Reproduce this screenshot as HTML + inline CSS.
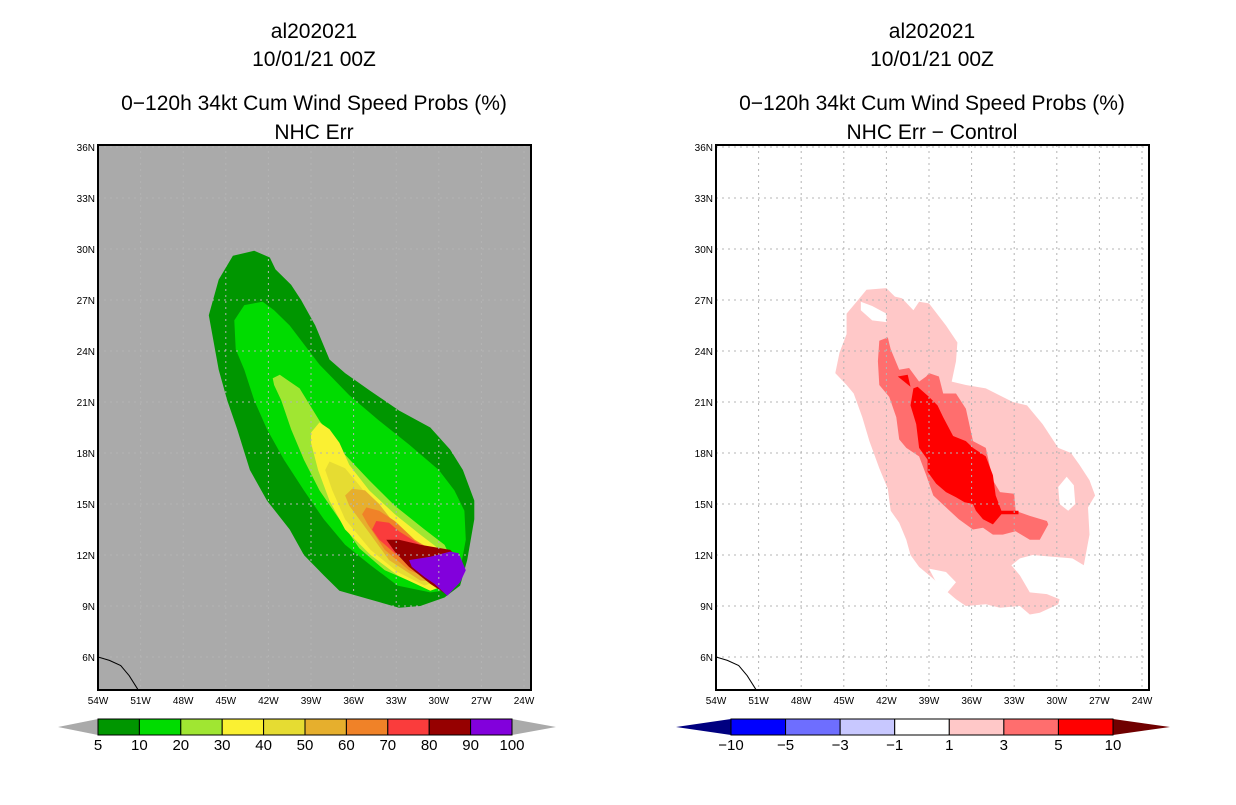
<!DOCTYPE html>
<html><head><meta charset="utf-8"><style>
html,body{margin:0;padding:0;background:#fff;}
svg text{font-family:"Liberation Sans",sans-serif;}
</style></head><body>
<svg id="root" width="1236" height="800" xmlns="http://www.w3.org/2000/svg">
<rect width="1236" height="800" fill="#fff"/>
<g id="left"></g>
<g id="right"></g>
</svg>
<script>
// ---- data: contour polygons as [lon(W), lat(N)] ----
const p05=[[44.5,29.6],[43.0,29.9],[41.9,29.5],[41.5,28.8],[40.4,27.9],[39.7,27.0],[38.7,25.5],[37.7,23.5],[36.6,22.7],[34.9,21.7],[32.8,20.5],[30.6,19.5],[29.2,18.2],[28.3,17.0],[27.5,15.2],[27.5,14.1],[28.0,11.7],[28.5,10.2],[29.6,9.5],[31.3,9.0],[32.8,8.9],[34.9,9.4],[37.0,9.9],[38.1,10.8],[39.5,12.0],[40.5,13.5],[42.1,15.2],[43.3,17.0],[44.2,19.4],[44.9,21.1],[45.5,22.9],[46.2,26.1],[45.5,28.2]];
const p10=[[42.4,26.9],[43.7,26.7],[44.4,25.8],[44.3,24.1],[43.7,22.9],[43.0,21.1],[42.1,19.4],[40.9,17.6],[39.5,15.8],[38.1,14.1],[36.6,12.6],[34.8,11.4],[32.9,10.2],[30.6,9.8],[29.6,9.9],[28.5,11.1],[28.1,12.9],[28.2,14.6],[28.9,15.8],[30.0,17.0],[32.1,18.5],[34.2,19.9],[36.3,21.4],[38.4,23.2],[40.5,25.5],[41.6,26.4]];
const p20=[[41.2,22.6],[41.7,22.4],[41.6,22.0],[41.1,21.1],[40.4,19.4],[39.5,17.6],[38.4,15.8],[37.0,14.1],[35.6,12.4],[33.8,11.1],[31.3,10.2],[29.9,10.2],[28.9,11.4],[29.6,12.6],[31.0,13.5],[33.1,14.9],[34.9,16.4],[36.6,17.9],[38.4,19.9],[39.8,21.8]];
const p30=[[38.4,19.8],[39.0,19.2],[39.0,18.6],[38.5,17.0],[37.7,15.2],[36.6,13.5],[34.8,12.0],[32.9,10.8],[30.6,9.9],[29.6,10.2],[28.9,11.4],[29.9,12.3],[31.3,13.2],[33.1,14.4],[34.9,15.8],[36.3,17.3],[37.0,18.6],[37.7,19.4]];
const p40=[[37.7,17.5],[38.0,17.0],[37.5,15.8],[36.6,14.1],[34.8,12.3],[32.9,11.0],[31.0,10.2],[29.2,10.8],[29.4,11.7],[30.6,12.3],[32.8,13.5],[34.2,14.6],[35.6,16.1],[36.6,17.1]];
const p50=[[36.1,15.9],[36.6,15.5],[36.3,14.9],[34.8,13.2],[33.5,11.7],[31.3,10.5],[29.9,10.4],[29.2,11.4],[30.6,12.2],[32.8,13.5],[34.2,15.0],[35.2,15.8]];
const p60=[[35.1,14.8],[35.4,14.4],[35.0,13.8],[33.8,12.3],[32.1,11.1],[30.3,10.5],[29.1,11.2],[29.9,12.0],[31.7,12.9],[33.1,14.0],[34.2,14.6]];
const p70=[[34.4,14.0],[34.7,13.5],[34.2,12.9],[33.1,12.1],[31.3,11.0],[29.9,10.3],[28.6,11.3],[29.6,12.1],[31.3,12.6],[32.8,13.4],[33.5,13.9]];
const p80=[[33.7,12.9],[33.1,12.2],[32.1,11.3],[30.6,10.3],[29.5,9.7],[29.1,10.3],[28.5,11.7],[29.2,12.3],[31.3,12.6],[32.8,12.9]];
const p90=[[32.1,11.7],[30.6,11.9],[29.2,12.2],[28.6,12.1],[28.1,11.1],[28.5,10.4],[29.4,9.6],[30.3,10.3],[31.0,10.7],[31.9,11.3]];
const d1=[[43.4,27.6],[42.0,27.7],[41.4,27.2],[40.9,27.1],[40.1,26.4],[39.7,26.9],[39.0,26.8],[37.8,25.5],[37.0,24.5],[37.1,23.4],[37.4,22.2],[36.4,22.0],[35.0,21.8],[33.1,21.0],[32.1,20.8],[31.7,20.4],[31.0,19.7],[29.9,18.3],[29.0,18.0],[28.4,17.3],[27.7,16.4],[27.3,15.5],[27.8,14.8],[27.7,13.2],[28.1,11.4],[28.9,11.8],[30.3,11.9],[31.7,12.0],[32.6,11.8],[33.2,11.4],[32.6,10.8],[31.9,9.8],[30.7,9.7],[29.8,9.4],[29.9,9.1],[31.2,8.6],[31.9,8.5],[32.6,9.0],[34.0,8.9],[35.0,9.1],[36.4,9.0],[37.1,9.4],[37.8,9.9],[38.7,10.6],[39.7,11.3],[40.3,12.0],[40.6,12.9],[41.1,13.9],[41.7,14.6],[41.9,15.9],[42.5,17.1],[43.2,18.7],[43.7,20.1],[44.3,21.5],[44.8,22.0],[45.6,22.7],[45.3,23.9],[44.8,25.0],[44.8,26.2],[44.1,26.9]];
const hole1=[[29.3,16.6],[28.8,16.1],[28.7,15.0],[29.2,14.6],[29.8,15.0],[29.9,16.0]];
const hole2=[[43.8,26.9],[43.0,26.65],[42.0,26.2],[42.0,25.7],[43.0,25.8],[43.8,26.4]];
const hole3=[[39.0,11.2],[37.8,11.0],[37.1,10.4],[37.7,9.8],[38.5,10.4]];
const d3=[[42.5,24.6],[41.9,24.8],[41.7,24.1],[41.1,22.9],[40.4,23.0],[39.7,22.2],[39.2,22.5],[39.0,22.7],[38.3,22.5],[38.0,21.5],[37.1,21.5],[36.4,20.6],[35.9,18.7],[35.0,18.3],[34.5,16.4],[34.0,15.7],[33.0,15.6],[32.9,14.6],[31.9,14.3],[30.7,14.0],[30.6,13.8],[31.2,12.9],[31.9,12.9],[32.9,13.4],[33.8,13.2],[34.5,13.2],[35.2,13.6],[35.9,13.5],[36.9,14.1],[37.8,14.8],[38.7,15.5],[39.2,16.7],[39.7,17.8],[40.6,18.3],[41.1,18.8],[41.3,20.1],[41.8,21.3],[42.5,22.0],[42.6,23.4]];
const d5=[[40.1,21.8],[39.8,21.9],[39.0,21.3],[38.4,20.8],[38.0,20.1],[37.3,19.0],[36.4,18.7],[35.9,18.3],[35.0,17.8],[34.5,16.7],[34.3,15.5],[33.9,14.6],[32.7,14.6],[32.7,14.4],[33.9,14.4],[34.5,13.8],[35.2,14.1],[35.7,14.6],[35.9,15.0],[36.5,15.1],[37.1,15.4],[37.8,15.7],[38.5,16.2],[39.1,16.9],[39.1,17.6],[39.7,18.3],[39.9,19.7],[40.3,20.8]];
const d5b=[[41.2,22.5],[40.5,22.6],[40.3,21.9]];
const coast=[[54,6.0],[53.2,5.8],[52.4,5.5],[51.8,4.9],[51.2,4.1]];
const lonTicks=[54,51,48,45,42,39,36,33,30,27,24];
const latTicks=[36,33,30,27,24,21,18,15,12,9,6];
const leftLevels=["5","10","20","30","40","50","60","70","80","90","100"];
const leftColors=["#009600","#00dc00","#a0e632","#faf032","#e6dc32","#e6af2d","#f08228","#fa3c3c","#960000","#8200dc"];
const rightLevels=["\u221210","\u22125","\u22123","\u22121","1","3","5","10"];
const rightColors=["#0000ff","#6e6eff","#c8c8ff","#ffffff","#ffc8c8","#ff6e6e","#ff0000"];

const NS="http://www.w3.org/2000/svg";
function mk(tag,attrs,parent){const e=document.createElementNS(NS,tag);for(const k in attrs)e.setAttribute(k,attrs[k]);parent.appendChild(e);return e;}
function xs(x0){return lon=>x0+(54-lon)*14.2;}
const ys=lat=>147+(36-lat)*17;
function pts(poly,X){return poly.map(p=>X(p[0]).toFixed(1)+","+ys(p[1]).toFixed(1)).join(" ");}

function panel(g,x0,bg,title2,layers){
  const X=xs(x0), W=433, top=145, bot=690;
  const cx=x0+216;
  const titles=["al202021","10/01/21 00Z","0\u2212120h 34kt Cum Wind Speed Probs (%)",title2];
  const ty=[38,66,110,139];
  titles.forEach((t,i)=>{const e=mk("text",{x:cx,y:ty[i],"text-anchor":"middle","font-size":"21"},g);e.textContent=t;
    
    });
  const cid="clip"+x0;
  const cp=mk("clipPath",{id:cid},g);mk("rect",{x:x0,y:top,width:W,height:bot-top},cp);
  const bgR=mk("rect",{x:x0,y:top,width:W,height:bot-top,fill:bg},g);
  
  
  const m=mk("g",{"clip-path":"url(#"+cid+")"},g);
  layers.forEach(L=>{const e=mk("polygon",{points:pts(L[0],X),fill:L[1]},m);
    
    });
  lonTicks.forEach(l=>{const e=mk("line",{x1:X(l),x2:X(l),y1:top,y2:bot,stroke:"#b4b4b4","stroke-width":1,"stroke-dasharray":"2,4"},m);
    
    });
  latTicks.forEach(l=>{const e=mk("line",{x1:x0,x2:x0+W,y1:ys(l),y2:ys(l),stroke:"#b4b4b4","stroke-width":1,"stroke-dasharray":"2,4"},m);
    
    });
  const c=mk("polyline",{points:pts(coast,X),fill:"none",stroke:"#000","stroke-width":1},m);
  
  
  const fr=mk("rect",{x:x0,y:top,width:W,height:bot-top,fill:"none",stroke:"#000","stroke-width":2},g);
  
  
  lonTicks.forEach(l=>{const e=mk("text",{x:X(l),y:704,"text-anchor":"middle","font-size":"10"},g);e.textContent=l+"W";
    
    });
  latTicks.forEach(l=>{const e=mk("text",{x:x0-3,y:ys(l)+4,"text-anchor":"end","font-size":"10"},g);e.textContent=l+"N";
    
    });
}
function colorbar(g,x1,x2,t1,t2,colors,labels,lc,rc){
  const n=colors.length,w=(x2-x1)/n,y1=719,y2=735;
  const a=mk("polygon",{points:`${t1},727 ${x1},${y1} ${x1},${y2}`,fill:lc},g);
  
  
  const b=mk("polygon",{points:`${t2},727 ${x2},${y1} ${x2},${y2}`,fill:rc},g);
  
  
  colors.forEach((c,i)=>{const e=mk("rect",{x:x1+i*w,y:y1,width:w,height:y2-y1,fill:c,stroke:"#000","stroke-width":1},g);
    
    });
  labels.forEach((t,i)=>{const e=mk("text",{x:x1+i*w,y:750,"text-anchor":"middle","font-size":"15"},g);e.textContent=t;
    
    });
}
const L=document.getElementById("left"),R=document.getElementById("right");
panel(L,98,"#aaaaaa","NHC Err",[[p05,leftColors[0]],[p10,leftColors[1]],[p20,leftColors[2]],[p30,leftColors[3]],[p40,leftColors[4]],[p50,leftColors[5]],[p60,leftColors[6]],[p70,leftColors[7]],[p80,leftColors[8]],[p90,leftColors[9]]]);
panel(R,716,"#ffffff","NHC Err \u2212 Control",[[d1,"#ffc8c8"],[hole1,"#ffffff"],[hole2,"#ffffff"],[hole3,"#ffffff"],[d3,"#ff6e6e"],[d5,"#ff0000"],[d5b,"#ff0000"]]);
colorbar(L,98,512,58,556,leftColors,leftLevels,"#aaaaaa","#aaaaaa");
colorbar(R,731,1113,676,1170,rightColors,rightLevels,"#000080","#700000");
</script>
</body></html>
